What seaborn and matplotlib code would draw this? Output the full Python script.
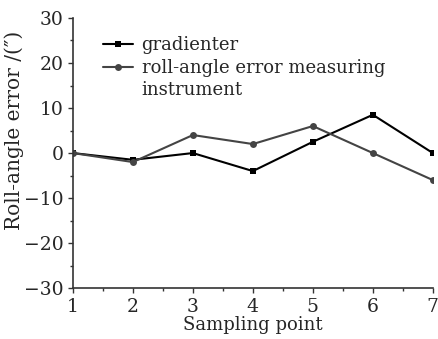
import matplotlib
matplotlib.use("Agg")
import matplotlib.pyplot as plt
import seaborn as sns
import pandas as pd
from matplotlib.ticker import MultipleLocator

sampling_points = [1, 2, 3, 4, 5, 6, 7]
gradienter = [0, -1.5, 0, -4, 2.5, 8.5, 0]
roll_angle = [0, -2, 4, 2, 6, 0, -6]
series_names = ["gradienter", "roll-angle error measuring"]
label_continuation = "instrument"

sns.set_style("ticks")
plt.rcParams['font.family'] = ['DejaVu Serif']
FS = 13.5

fig = plt.figure(figsize=(4.39, 3.39), dpi=100)
ax = fig.add_axes([0.166, 0.150, 0.820, 0.797])

df = pd.DataFrame({
    "x": sampling_points * 2,
    "y": gradienter + roll_angle,
    "series": [series_names[0]] * 7 + [series_names[1]] * 7,
})

sns.lineplot(data=df[df.series == series_names[0]], x="x", y="y", ax=ax,
             color="#000000", marker="s", markersize=4.5, markeredgewidth=0,
             linewidth=1.5, label=series_names[0])
sns.lineplot(data=df[df.series == series_names[1]], x="x", y="y", ax=ax,
             color="#444444", marker="o", markersize=5, markeredgewidth=0,
             linewidth=1.5, label=series_names[1])
ax.plot([], [], color="none", label=label_continuation)

ax.set_xlim(1, 7)
ax.set_ylim(-30, 30)
ax.xaxis.set_major_locator(MultipleLocator(1))
ax.xaxis.set_minor_locator(MultipleLocator(0.5))
ax.yaxis.set_major_locator(MultipleLocator(10))
ax.yaxis.set_minor_locator(MultipleLocator(5))
ax.tick_params(axis="both", which="major", direction="out", length=3.8, width=1,
               labelsize=FS, color="#333333", pad=3)
ax.tick_params(axis="both", which="minor", direction="out", length=2.2, width=1,
               color="#333333")
for s in ["top", "right"]:
    ax.spines[s].set_visible(False)
for s in ["left", "bottom"]:
    ax.spines[s].set_color("#333333")
    ax.spines[s].set_linewidth(1.2)

ax.set_xlabel("Sampling point", fontsize=13, labelpad=0)
ax.set_ylabel("Roll-angle error /(\u2033)", fontsize=14.5)
ax.yaxis.set_label_coords(-0.137, 0.585)

leg = ax.legend(loc="upper left", bbox_to_anchor=(0.083, 0.932), frameon=False,
                fontsize=13, handlelength=1.65, handletextpad=0.5,
                labelspacing=0.25, borderpad=0.0, borderaxespad=0.0)

fig.savefig("out.png", dpi=100)
